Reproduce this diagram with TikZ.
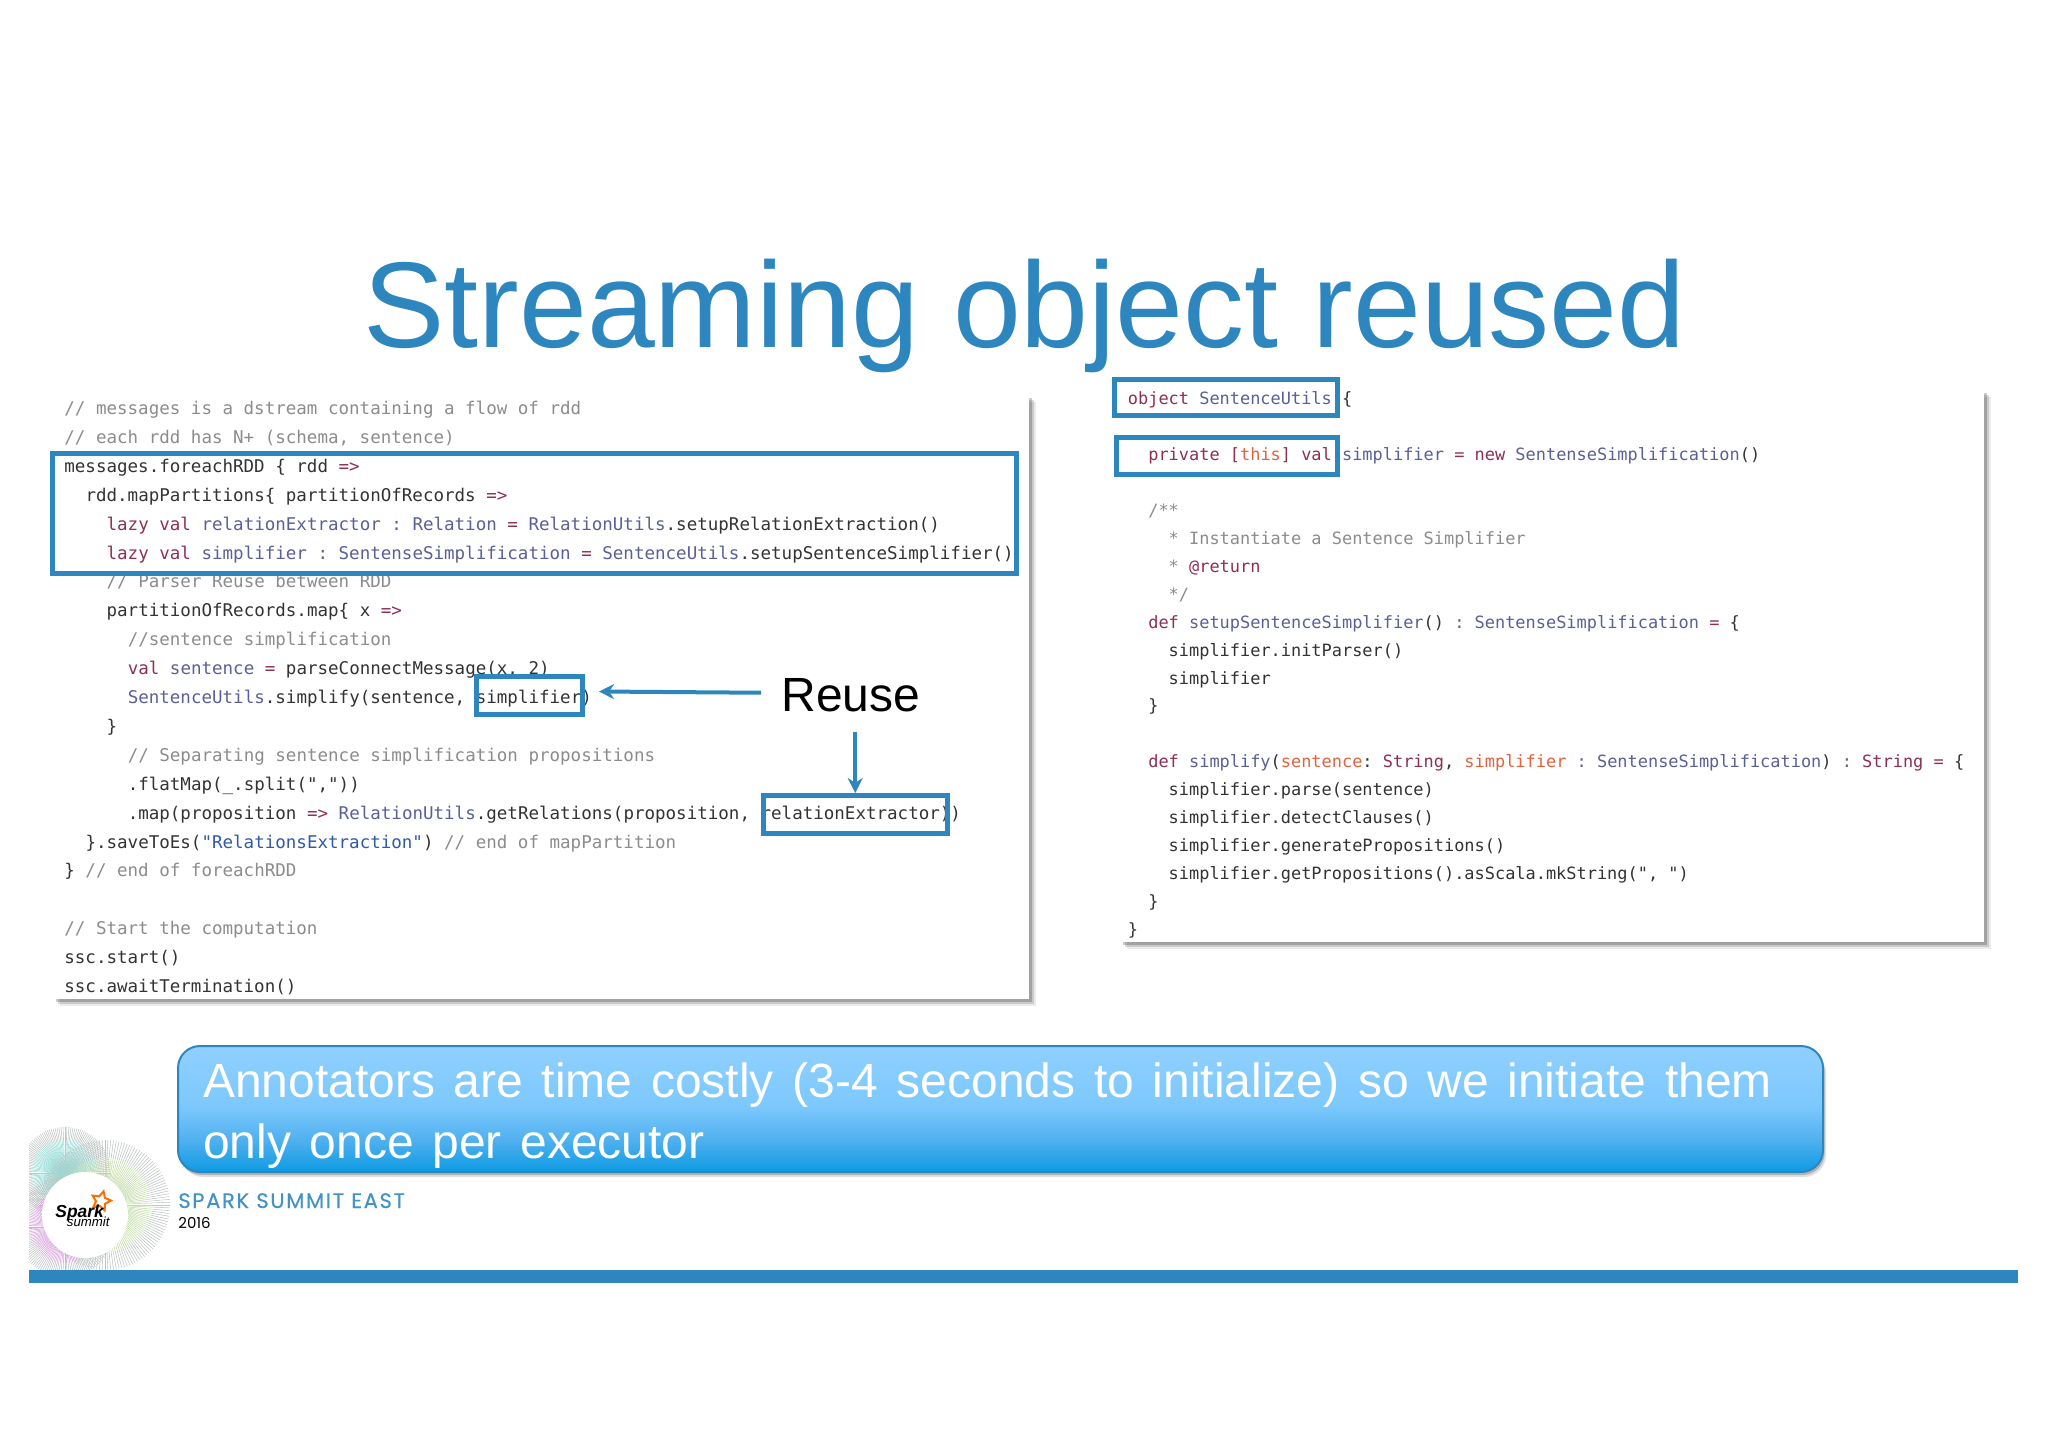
\documentclass[tikz,border=0pt]{standalone}
\usepackage{fontspec}
\setmainfont{Liberation Sans}
\setmonofont{DejaVu Sans Mono}
\newfontfamily\brandfont[LetterSpace=8,FakeBold=0.4]{Poppins}
\newfontfamily\yearfont{Poppins}
\usetikzlibrary{arrows.meta,shadows,shapes.geometric}
\definecolor{slideblue}{HTML}{2E86BF}
\definecolor{noteA}{HTML}{0D9AE3}
\definecolor{noteB}{HTML}{4FB0EE}
\definecolor{noteC}{HTML}{7CC8FD}
\definecolor{noteD}{HTML}{8FD0FF}
\definecolor{kwdcol}{HTML}{8E2F55}
\definecolor{typcol}{HTML}{5A6096}
\definecolor{cmtcol}{HTML}{8C8C8C}
\definecolor{argcol}{HTML}{E2633F}
\definecolor{strcol}{HTML}{2F5AA8}
\definecolor{txtcol}{HTML}{333333}
\definecolor{rayteal}{HTML}{98DCD6}
\definecolor{raygreen}{HTML}{C4DDA8}
\definecolor{raypurple}{HTML}{D8A8DE}
\definecolor{raygrey}{HTML}{BFC4C4}
\pgfdeclareverticalshading{noteshade}{100bp}{color(0bp)=(noteA); color(25bp)=(noteA); color(37.5bp)=(noteB); color(51bp)=(noteC); color(75bp)=(noteD); color(100bp)=(noteD)}
\newcommand{\kwd}[1]{\textcolor{kwdcol}{#1}}
\newcommand{\typ}[1]{\textcolor{typcol}{#1}}
\newcommand{\cmt}[1]{\textcolor{cmtcol}{#1}}
\newcommand{\argn}[1]{\textcolor{argcol}{#1}}
\newcommand{\strg}[1]{\textcolor{strcol}{#1}}
\newcommand{\nsp}{\hspace{1.35pt}}
\tikzstyle{softshadow}=[general shadow={fill=black,opacity=.08,shadow xshift=3.5pt,shadow yshift=-3.5pt},
	general shadow={fill=black,opacity=.14,shadow xshift=2.5pt,shadow yshift=-2.5pt},
	general shadow={fill=black,opacity=.2,shadow xshift=1.5pt,shadow yshift=-1.5pt}]
\tikzstyle{panel}=[rectangle,fill=white,inner sep=0pt,softshadow]
\tikzstyle{codeleft}=[anchor=base west,inner sep=0pt,text=txtcol,font=\ttfamily\fontsize{8.76}{10}\selectfont]
\tikzstyle{coderight}=[anchor=base west,inner sep=0pt,text=txtcol,font=\ttfamily\fontsize{8.47}{10}\selectfont]
\tikzstyle{hlbox}=[rectangle,draw=slideblue,line width=2.5pt,inner sep=0pt]
\tikzstyle{reusearrow}=[draw=slideblue,line width=2pt,-{Stealth[length=7.5pt,width=7.5pt]}]
\tikzstyle{ray}=[line width=.28pt]
\tikzstyle{note}=[rectangle,rounded corners=11pt,draw=slideblue,line width=1pt,shading=noteshade,
	general shadow={fill=black,opacity=.12,shadow xshift=1.5pt,shadow yshift=-2.5pt},
	general shadow={fill=black,opacity=.2,shadow xshift=.8pt,shadow yshift=-1.5pt},
	inner xsep=12.5pt,inner ysep=0pt,align=left,text=white]

\begin{document}
\begin{tikzpicture}[x=0.5pt,y=-0.5pt]
	\useasboundingbox (0,0) rectangle (2048,1447);

	% Title
	\node[anchor=base west,inner sep=0pt,text=slideblue,font=\fontsize{61}{70}\selectfont] (title) at (363,347) {Streaming object reused};

	% First we draw the two code panels
	\node[panel,minimum width=488pt,minimum height=302pt] (leftpanel) at (541,697) {};
	\node[panel,minimum width=432pt,minimum height=276pt] (rightpanel) at (1552,666) {};

	% Code on the left panel: row/indent/text
	\foreach \row/\ind/\code in {
		0/0/{\cmt{// messages is a dstream containing a flow of rdd}},
		1/0/{\cmt{// each rdd has N+ (schema, sentence)}},
		2/0/{messages.foreachRDD \{ rdd \kwd{=>}},
		3/2/{rdd.mapPartitions\{ partitionOfRecords \kwd{=>}},
		4/4/{\kwd{lazy val} \typ{relationExtractor : Relation} \kwd{=} \typ{RelationUtils}.setupRelationExtraction()},
		5/4/{\kwd{lazy val} \typ{simplifier : SentenseSimplification} \kwd{=} \typ{SentenceUtils}.setupSentenceSimplifier()},
		6/4/{\cmt{// Parser Reuse between RDD}},
		7/4/{partitionOfRecords.map\{ x \kwd{=>}},
		8/6/{\cmt{//sentence simplification}},
		9/6/{\kwd{val} \typ{sentence} \kwd{=} parseConnectMessage(x, 2)},
		10/6/{\typ{SentenceUtils}.simplify(sentence, simplifier)},
		11/4/{\}},
		12/6/{\cmt{// Separating sentence simplification propositions}},
		13/6/{.flatMap(\_.split(","))},
		14/6/{.map(proposition \kwd{=>} \typ{RelationUtils}.getRelations(proposition, relationExtractor))},
		15/2/{\}.saveToEs(\strg{"RelationsExtraction"}) \cmt{// end of mapPartition}},
		16/0/{\} \cmt{// end of foreachRDD}},
		18/0/{\cmt{// Start the computation}},
		19/0/{ssc.start()},
		20/0/{ssc.awaitTermination()}}
	\node[codeleft] (left\row) at ({64+10.56*\ind},{414.5+28.9*\row}) {\code};

	% Code on the right panel
	\foreach \row/\ind/\code in {
		0/0/{\kwd{object} \typ{SentenceUtils} \{},
		2/2/{\kwd{private [}\argn{this}\kwd{] val} \typ{simplifier} \kwd{= new} \typ{SentenseSimplification}()},
		4/2/{\cmt{/**}},
		5/4/{\cmt{* Instantiate a Sentence Simplifier}},
		6/4/{\cmt{*} \kwd{@return}},
		7/4/{\cmt{*/}},
		8/2/{\kwd{def} \typ{setupSentenceSimplifier}() \typ{: SentenseSimplification} \kwd{=} \{},
		9/4/{simplifier.initParser()},
		10/4/{simplifier},
		11/2/{\}},
		13/2/{\kwd{def} \typ{simplify}(\argn{sentence}: \kwd{String}, \argn{simplifier} \typ{: SentenseSimplification}) \typ{:} \kwd{String =} \{},
		14/4/{simplifier.parse(sentence)},
		15/4/{simplifier.detectClauses()},
		16/4/{simplifier.generatePropositions()},
		17/4/{simplifier.getPropositions().asScala.mkString(", ")},
		18/2/{\}},
		19/0/{\}}}
	\node[coderight] (right\row) at ({1127.5+10.2*\ind},{404.5+27.95*\row}) {\code};

	% Highlight boxes over the code
	\node[hlbox,minimum width=482pt,minimum height=60pt] (boxforeach) at (534.5,513.5) {};
	\node[hlbox,minimum width=53.25pt,minimum height=19pt] (boxsimp) at (529.25,695.5) {};
	\node[hlbox,minimum width=92.25pt,minimum height=19pt] (boxrel) at (855.25,814.5) {};
	\node[hlbox,minimum width=111.75pt,minimum height=18pt] (boxobj) at (1225.75,397.5) {};
	\node[hlbox,minimum width=110.5pt,minimum height=18.5pt] (boxpriv) at (1227,456) {};

	% Reuse label and its arrows
	\node[anchor=base west,inner sep=0pt,font=\fontsize{24}{28}\selectfont] (reuse) at (781,711) {Reuse};
	\path[reusearrow] ([xshift=-10pt,yshift=1pt]reuse.west) -- ([xshift=7pt,yshift=2pt]boxsimp.east);
	\path[reusearrow] (reuse.south -| boxrel.north) ++(0,20) -- (boxrel.north);

	% Callout
	\node[note,minimum width=822.5pt,minimum height=63pt,text width=797.5pt,font=\fontsize{24}{30.5}\selectfont] (callout) at (1000.5,1109)
		{\rule{0pt}{23.5pt}Annotators\nsp{} are\nsp{} time\nsp{} costly\nsp{} (3-4\nsp{} seconds\nsp{} to\nsp{} initialize)\nsp{} so\nsp{} we\nsp{} initiate\nsp{} them\\only\nsp{} once\nsp{} per\nsp{} executor};

	% Logo burst: inner part of each ray coloured, outer part grey
	\begin{scope}
		\clip (29,1100) rectangle (190,1270);
		\foreach \cx/\cy/\rad/\col in {65/1173/46/rayteal, 105/1205/65/raygreen, 65/1227/50/raypurple}
		\foreach \ang in {0,2.5,...,357.5}
		{
			\draw[ray,draw=\col] (\cx,\cy) -- ++(\ang:0.72*\rad);
			\draw[ray,draw=raygrey] (\cx,\cy) ++(\ang:0.72*\rad) -- ++(\ang:0.28*\rad);
		}
	\end{scope}
	\node[circle,fill=white,minimum size=43pt,inner sep=0pt] (badge) at (85,1215) {};
	\node[star,star points=5,star point ratio=2,rotate=-15,draw=orange!85!red,line width=1pt,fill=white,minimum size=10pt,inner sep=0pt] (badgestar) at (101,1201) {};
	\node[anchor=base west,inner sep=0pt,font=\bfseries\itshape\fontsize{8.7}{10}\selectfont] (badgespark) at (55,1217) {Spark};
	\node[anchor=base west,inner sep=0pt,font=\itshape\fontsize{6.6}{8}\selectfont] (badgesummit) at (66.5,1226) {summit};

	% Footer
	\node[anchor=base west,inner sep=0pt,text=slideblue!90,font=\brandfont\fontsize{10.5}{12}\selectfont] (event) at (178,1208) {SPARK SUMMIT EAST};
	\node[anchor=base west,inner sep=0pt,font=\yearfont\fontsize{7.5}{9}\selectfont] (eventyear) at (178,1228) {2016};
	\fill[slideblue] (29,1270) rectangle (2018,1283);
\end{tikzpicture}
\end{document}
